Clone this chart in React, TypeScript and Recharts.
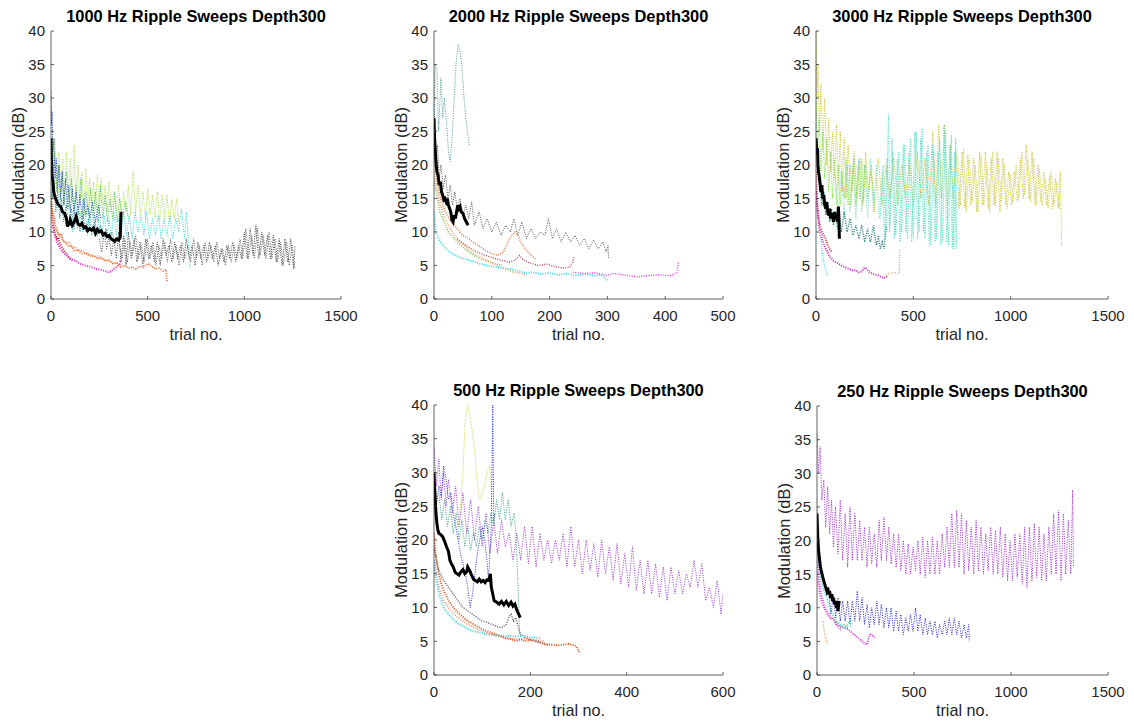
import React from "react";
import { LineChart, Line, XAxis, YAxis } from "recharts";

type Pt = [number, number];
type Series = { color: string; pts: Pt[]; solid?: boolean; w?: number };

// ---------- 1000 Hz ----------
const p1Gray: Pt[] = [[250,9],[262,7],[275,10],[288,7.5],[300,9.5],[312,6.5],[325,9],[338,6],[350,10],[362,5.5],[375,9.5],[388,5],[400,10],[415,6],[430,9],[445,5.5],[460,8.5],[475,5],[490,9],[505,6],[520,8],[535,5.5],[550,8.5],[565,5],[580,9],[595,6.5],[610,8],[625,5.5],[640,8.5],[655,6],[670,8],[685,5.5],[700,9],[715,6],[730,8],[745,5],[760,8.5],[775,6],[790,8],[805,5.5],[820,8.5],[835,6],[850,8],[865,5],[880,7.5],[895,5.5],[910,8],[925,6],[940,8.5],[955,5.5],[970,8],[985,6],[1000,10],[1015,6],[1030,10.5],[1045,6.5],[1060,11],[1075,6],[1090,10],[1105,6.5],[1120,9.5],[1135,6],[1150,9.5],[1165,5.5],[1180,9],[1195,5],[1210,9],[1225,5.5],[1240,9],[1255,4.5],[1262,8]];
const p1Gray2: Pt[] = [[355,8],[368,6],[382,9],[395,5.5],[408,8.5],[422,6.5],[438,9.5],[452,6],[468,8],[482,5.5],[498,9],[512,6],[528,8.5],[542,5],[558,8],[572,6],[588,8.5],[602,5.5],[618,9],[632,6],[648,8],[662,5],[678,8.5],[692,6],[708,8],[722,5.5],[738,9],[752,6],[768,8],[782,5],[798,8.5],[812,6],[828,8],[842,5.5],[858,8.5],[872,6],[888,7.5],[902,5],[918,8],[932,5.5],[948,8],[962,6],[978,9],[992,6],[1008,10.5],[1022,6],[1038,9.5],[1052,6],[1068,10.5],[1082,6.5],[1098,9.5],[1112,6],[1128,10],[1142,6],[1158,9],[1172,5.5],[1188,8.5],[1202,5],[1218,8.5],[1232,5],[1248,8],[1260,4.5]];
const p1Cyan: Pt[] = [[100,14],[112,10],[125,15],[138,10.5],[150,13],[162,10],[175,14],[188,9.5],[200,13],[212,10],[225,12.5],[238,9.5],[250,13],[262,9],[275,12.5],[288,9.5],[300,12],[312,9],[325,13],[338,9.5],[350,12],[362,9],[375,13],[390,9.5],[405,12.5],[420,9],[435,13],[450,10],[465,12.5],[480,9.5],[495,13],[510,9],[525,12],[540,9.5],[555,12.5],[570,9],[585,12],[600,9.5],[615,12.5],[630,9],[645,12],[660,10],[675,13.5],[690,9],[700,13],[712,8],[720,4.5]];
const p1Lime: Pt[] = [[5,26],[12,19],[20,24],[30,17],[40,22],[50,16],[60,21],[70,15.5],[80,22],[90,15],[100,21],[110,14.5],[120,23],[130,15],[140,20],[150,14],[160,19],[170,13.5],[180,19.5],[190,14],[200,18],[210,13],[220,17.5],[230,13.5],[240,18.5],[250,13],[260,18],[270,14],[280,17],[290,13],[300,17.5],[312,13.5],[325,16],[338,13],[350,17],[362,12.5],[375,16],[388,13],[400,17],[412,12.5],[425,19],[438,13],[450,17],[462,12.5],[475,16],[488,12],[500,16.5],[512,12.5],[525,15.5],[538,12],[550,16],[562,11.5],[575,15.5],[588,12],[600,15.5],[612,11.5],[625,15],[638,12],[650,15],[660,11.5]];
const p1Green: Pt[] = [[3,24],[10,18],[18,22],[28,16],[38,20],[48,14.5],[58,19],[68,14],[80,19],[92,13.5],[105,18],[118,13],[130,17],[142,12.5],[155,18],[168,12],[180,16],[192,12.5],[205,16.5],[218,12],[230,16],[242,11.5],[255,17],[268,12],[280,15.5],[292,11.5],[305,15],[318,12],[330,16],[342,11.5],[355,15],[370,12],[385,14.5],[400,12]];
const p1Blue: Pt[] = [[0,31],[3,26],[6,28],[10,22],[15,24],[20,18],[27,21],[34,16],[42,20],[50,15],[58,19],[66,14],[75,18],[84,13.5],[92,17],[100,13],[110,16.5],[120,12.5],[130,16],[140,13],[150,15.5],[160,12],[170,15],[180,12.5],[190,14],[200,12],[215,14.5],[230,11.5],[245,14],[258,12]];
const p1Teal: Pt[] = [[0,20],[8,15],[16,18],[25,13],[35,16],[45,12],[55,15],[65,11.5],[78,14],[90,11],[105,13.5],[120,10.5],[135,13],[150,10],[165,12.5],[180,10],[195,12],[210,9.5],[225,11.5],[240,9.5],[255,11],[270,9],[285,10.5],[300,9],[315,10],[330,8.5]];
const p1Orange: Pt[] = [[0,16],[5,14],[10,13],[15,12.5],[22,11],[30,10.5],[40,9.5],[50,9.8],[60,8.7],[75,8.5],[90,7.8],[105,8],[120,7.2],[140,7.3],[160,6.8],[180,6.9],[200,6.4],[220,6.5],[240,6],[260,6.2],[280,5.7],[300,5.8],[320,5.3],[340,5.4],[360,4.8],[380,5],[400,4.6],[420,4.8],[440,4.4],[460,4.9],[480,4.7],[500,5.3],[520,4.9],[540,4.5],[560,4.6],[580,4.2],[595,4.4],[600,2.5]];
const p1Salmon: Pt[] = [[0,14],[8,12],[16,11],[25,10.3],[35,9.8],[45,9.2],[55,9.5],[65,8.6],[80,8.3],[95,8.5],[110,7.6],[125,7.8],[140,7.2],[160,7.3],[180,6.7],[200,6.8],[220,6.3],[240,6.4],[260,6],[280,5.8],[300,5.7],[320,5.3],[340,5.4],[360,5]];
const p1Red: Pt[] = [[0,15],[3,13],[6,12.5],[10,11],[15,10.5],[20,9.8],[25,9.5],[30,9],[35,9.2],[40,8.6],[48,8.2],[55,7.8],[62,7.5],[70,7],[80,6.8],[90,6.3],[100,6],[110,5.8]];
const p1Magenta: Pt[] = [[10,11],[20,9.5],[30,8.5],[40,8],[50,7.5],[60,7],[70,6.8],[80,6.5],[90,6.2],[100,6],[115,5.8],[130,5.7],[145,5.3],[160,5.2],[175,5],[190,4.9],[205,4.8],[220,4.6],[235,4.5],[250,4.4],[265,4.3],[280,4.2],[295,4],[310,4.1],[325,4.5],[340,4.8],[355,5.2],[360,5.8]];
const p1Black: Pt[] = [[0,24],[2,21],[4,19],[7,18],[10,17.5],[14,16],[18,15.5],[24,15],[30,14.5],[40,14],[50,13.8],[60,13],[70,12.8],[80,12],[85,10.8],[90,11.5],[95,11],[100,11.8],[110,11],[120,11.5],[130,12.3],[140,11.2],[150,11],[160,11.3],[170,10.6],[180,10.8],[190,10.2],[200,10.5],[210,10.3],[220,10.6],[230,9.8],[240,10.4],[250,10],[260,10.2],[270,9.6],[280,9.8],[290,9.3],[300,9.5],[310,9],[320,8.8],[330,8.6],[340,9],[350,8.8],[358,9.2],[362,13]];

// ---------- 2000 Hz ----------
const p2Gray: Pt[] = [[0,25],[3,21],[6,23],[9,18],[12,20],[16,16.5],[20,18.5],[24,15],[28,17],[32,14],[36,16],[40,13.5],[45,15],[50,12.5],[55,14],[60,12],[65,14.5],[70,11],[78,13],[85,10.5],[92,12],[100,10],[108,11.5],[116,9.5],[124,11],[132,10],[138,12],[145,9.5],[152,11.5],[160,9],[168,10.5],[176,9],[184,10],[192,9.5],[198,12],[205,9],[212,10.5],[220,8.5],[228,10],[236,8.5],[244,9.5],[252,8],[260,9],[268,7.5],[276,8.8],[284,7.5],[292,8.5],[298,7],[301,8],[302,6]];
const p2Teal: Pt[] = [[0,20],[2,35],[5,34.5],[8,25],[12,33],[15,27],[18,30],[22,26],[25,22],[28,20.5],[32,25],[35,30],[38,35],[42,38],[45,37],[48,35],[52,30],[55,27],[58,25],[61,23]];
const p2Orange: Pt[] = [[0,22],[5,18],[10,15.5],[15,14],[20,13],[30,11.5],[40,10.5],[50,9.5],[60,9],[70,8.3],[80,7.8],[90,7.2],[100,6.8],[110,6.5],[120,7],[128,8.5],[135,9.5],[140,10],[145,9.5],[150,8.5],[158,7.5],[165,6.8],[175,6]];
const p2Brown: Pt[] = [[40,9],[55,8],[70,7.2],[85,6.6],[100,6.2],[115,5.8],[130,5.5],[140,5.8],[148,6.5],[155,5.8],[165,5.4],[180,5],[195,5.2],[210,4.8],[225,4.6],[235,4.8],[240,5.5],[242,6.3]];
const p2Salmon: Pt[] = [[0,19],[8,15],[16,12.5],[25,11],[35,9.5],[45,8.5],[55,7.8],[65,7],[75,6.5],[85,6],[95,5.6],[105,5.2],[115,4.8],[125,4.4],[135,4.1],[145,3.9],[155,3.7],[160,3.6]];
const p2Cyan: Pt[] = [[0,13],[3,10],[8,9],[15,8],[25,7.2],[35,6.6],[45,6.2],[60,5.8],[75,5.4],[90,5],[105,4.8],[120,4.6],[135,4.4],[150,4.1],[160,3.8],[170,4],[185,3.7],[200,3.9],[215,3.6],[230,3.8],[245,3.5],[260,3.7],[275,3.5],[290,3.6],[300,2.8]];
const p2Green: Pt[] = [[0,18],[10,13],[25,10],[40,8.5],[60,7],[80,6],[100,5.4],[120,5]];
const p2Magenta: Pt[] = [[240,4],[260,3.8],[280,3.9],[300,3.5],[310,3.8],[330,3.6],[350,3.3],[370,3.5],[390,3.6],[410,3.5],[420,3.9],[423,5.5]];
const p2Black: Pt[] = [[0,27],[1,24],[3,21],[5,19],[7,18.5],[9,17],[11,17.5],[13,16],[15,15.5],[17,14.8],[19,15],[21,14.5],[23,15],[25,14],[27,13.5],[29,13],[31,11.8],[33,11.5],[35,12.5],[37,12],[39,13],[41,14],[43,13.5],[45,13.8],[47,13],[50,12.8],[53,12],[56,11.5],[59,11]];

// ---------- 3000 Hz ----------
const p3Olive: Pt[] = [[0,40],[5,30],[10,35],[18,25],[25,32],[35,22],[45,30],[55,20],[65,27],[75,19],[85,25],[95,18],[105,26],[115,17],[125,25],[135,16],[145,24],[155,15],[165,23],[180,14],[195,22],[210,15],[225,21],[240,14],[255,22],[270,16],[285,20],[300,13],[320,21],[340,14],[360,20],[380,15],[400,21],[420,14],[440,20],[460,15],[480,21],[500,14],[520,22],[540,15],[560,21],[580,14],[600,25],[615,14],[630,26],[645,15],[660,26],[675,14],[690,23],[705,15],[720,22],[735,13.5],[750,22],[765,13.5],[780,21.5],[795,14],[810,21],[825,13],[840,22],[855,14],[870,22],[885,13.5],[900,21],[915,14],[930,22],[945,13],[960,21],[975,14],[990,19],[1005,14],[1020,19],[1035,14.5],[1050,21],[1065,15],[1080,23],[1095,15],[1110,22],[1125,14],[1140,20],[1155,14.5],[1170,19],[1185,14],[1200,18.5],[1215,13.5],[1230,18],[1245,13.5],[1255,19],[1262,8]];
const p3Olive2: Pt[] = [[728,21],[742,14],[758,22.5],[772,13],[788,21],[802,14.5],[818,20],[832,13],[848,21.5],[862,14],[878,20],[892,13],[908,22],[922,14],[938,21],[952,14.5],[968,20],[982,13.5],[998,18.5],[1012,14.5],[1028,20],[1042,15],[1058,22],[1072,15.5],[1088,21],[1102,14.5],[1118,21],[1132,14],[1148,19.5],[1162,14],[1178,18],[1192,13.5],[1208,19],[1222,14],[1238,17.5],[1252,13.5]];
const p3Aqua: Pt[] = [[330,12],[345,20],[360,10],[372,27.5],[380,11],[395,22],[410,9.5],[425,22],[440,10],[455,23],[470,9],[485,24],[500,9.5],[515,25],[530,10],[545,25.5],[560,9],[575,23],[590,8],[605,22],[620,9],[635,24],[650,8.5],[665,25],[680,8],[695,24.5],[708,7.5],[718,24],[722,7.5]];
const p3Aqua2: Pt[] = [[340,18],[352,9],[365,21],[378,10],[390,24],[402,9],[418,21],[432,8.5],[448,23],[462,10],[478,22],[492,8.5],[508,25],[522,9],[538,24],[552,10],[568,22],[582,8],[598,23],[612,8.5],[628,22],[642,8],[658,26],[672,8.5],[688,23],[700,7.5],[712,22],[720,8]];
const p3Mint: Pt[] = [[100,18],[115,13],[130,19],[145,12],[160,20],[175,13],[190,20],[205,12],[220,21],[235,13],[250,20],[265,12],[280,21],[295,13],[310,20],[325,12],[340,19]];
const p3Green: Pt[] = [[0,30],[8,22],[16,27],[25,19],[35,25],[45,18],[55,24],[65,16],[75,22],[85,15],[95,21],[105,14],[115,20],[125,14],[135,19],[145,15],[155,21],[165,14],[175,20],[185,16],[195,21],[205,14],[215,20],[225,15],[235,21],[245,14.5],[255,20],[265,15],[280,19],[295,16],[300,14]];
const p3Teal: Pt[] = [[20,17],[30,14],[40,16],[50,12.5],[60,14.5],[70,11.5],[80,13.5],[90,11],[100,13],[110,10.5],[120,12.5],[130,10],[145,13],[160,10],[175,12],[190,9.5],[205,11],[220,9],[235,11],[250,8.5],[265,10.5],[280,8.5],[295,11],[310,8],[320,9.5],[330,7.5],[340,8.5],[350,7.5],[355,9],[362,11]];
const p3Magenta: Pt[] = [[0,16],[5,14],[10,12.5],[15,11],[20,10],[30,9],[40,8.2],[50,7.5],[60,7],[70,6.3],[80,6],[90,5.7],[100,5.5],[115,5.3],[130,5],[145,4.8],[160,4.6],[175,4.4],[190,4.2],[205,4.3],[220,4],[235,4.1],[250,4.7],[260,4.5],[275,4],[290,3.8],[305,3.6],[320,3.5],[335,3.3],[350,3.1],[365,3.4]];
const p3Red: Pt[] = [[0,19],[4,16],[8,14],[12,12.5],[16,11.5],[20,11],[25,10.5],[30,10],[40,9.5],[50,9],[60,8],[70,7.5],[80,7]];
const p3Orange: Pt[] = [[360,3.5],[380,3.8],[400,4],[420,3.8],[428,4],[430,7.5]];
const p3Cyan: Pt[] = [[25,9],[35,6],[45,5],[55,4],[60,3.5]];
const p3Blue: Pt[] = [[10,20],[20,17],[30,15],[40,16],[50,14],[60,13.5]];
const p3Black: Pt[] = [[0,24],[2,23],[5,21.5],[8,22.5],[10,20],[13,19],[16,18.5],[20,17.5],[25,16],[30,17],[35,15],[40,15.5],[45,14],[50,13.5],[55,14.5],[60,13],[65,12.5],[70,13.5],[75,12],[80,12.8],[85,12.2],[90,11.5],[95,13],[100,12],[105,12.5],[110,11.5],[115,13.8],[118,12],[120,9]];

// ---------- 500 Hz ----------
const p4Purple: Pt[] = [[0,34],[5,28],[10,32],[15,26],[20,30],[25,25],[30,29],[38,24],[45,28],[52,22],[60,27],[68,21],[76,26],[84,20],[92,25],[100,19],[108,24],[116,18],[124,23],[132,18],[140,23],[148,19],[156,21],[164,17],[172,21],[180,17],[188,22],[196,16.5],[204,22],[212,16],[220,21],[228,17],[236,20],[244,16.5],[252,20],[260,17],[268,21],[276,16],[284,22],[292,16],[300,20],[308,15],[316,20],[324,15.5],[332,19.5],[340,14.5],[348,20],[356,15],[364,19],[372,14],[380,19.5],[388,13.5],[396,18],[404,13],[412,19],[420,12.5],[428,17],[436,12],[444,17],[452,12],[460,16.5],[468,11.5],[476,16],[484,11],[492,16],[500,12],[508,15.5],[516,12],[524,15],[532,13],[540,17],[548,13],[556,16.5],[564,11],[572,13],[580,10],[588,14],[596,9],[600,12]];
const p4Blue: Pt[] = [[0,26],[5,25],[10,28],[15,26.5],[20,31],[25,29],[30,26],[35,27],[40,24],[45,22],[50,20],[55,18],[60,16.5],[65,15],[70,13],[75,10],[80,12],[85,15],[90,18],[95,20],[100,22],[105,20],[110,17],[113,14],[116,18],[119,22],[122,40],[124,23],[126,24]];
const p4Yellow: Pt[] = [[50,22],[55,25],[60,30],[65,38],[70,40],[75,38],[80,36],[85,33],[88,30],[92,27],[96,26],[100,27],[105,28],[110,30],[115,31],[118,30],[120,25]];
const p4Teal: Pt[] = [[10,27],[16,23],[22,26],[28,22],[34,25],[40,21],[46,24],[52,20],[58,23],[64,19],[70,22],[76,18.5],[82,21],[88,19],[94,22],[100,20],[106,23],[112,21],[118,24],[124,22],[130,26],[136,23],[142,27],[148,23],[154,26],[160,22],[166,24],[170,21],[174,14],[178,6]];
const p4Orange: Pt[] = [[0,21],[3,18],[6,16.5],[10,15],[15,13.5],[20,12.5],[25,11.8],[30,11],[40,10],[50,9.2],[60,8.6],[70,8],[80,7.6],[90,7.2],[100,6.8],[110,6.5],[120,6.2],[130,6],[140,5.7],[150,5.4],[160,5.3],[170,5],[180,5.3],[190,5],[200,5.2],[210,5],[220,4.8],[240,4.5],[260,4.4],[280,4.6],[295,4.3],[303,3.2]];
const p4Salmon: Pt[] = [[0,17],[10,13],[20,11],[35,9.5],[50,8.5],[70,7.5],[90,6.8],[110,6.2],[130,5.8],[150,5.5],[170,5.3],[190,5.4],[210,5.2],[230,5]];
const p4Cyan: Pt[] = [[0,17],[5,14],[10,12],[15,11],[20,10],[30,9],[40,8.2],[50,7.6],[60,7.2],[70,6.8],[80,6.5],[95,6.3],[110,6],[125,5.9],[140,5.8],[155,5.8],[170,5.7],[185,5.8],[200,5.6],[220,5.5]];
const p4Gray: Pt[] = [[0,19],[5,17],[10,15.5],[20,14],[30,13],[40,12],[50,11],[60,10],[70,9.5],[80,9],[90,8.5],[100,8],[110,7.8],[120,7.5],[130,7.2],[140,7],[150,7.5],[155,8.5],[160,9],[165,8],[170,8.5],[175,7],[180,6],[190,5.5],[200,5.2],[215,5],[230,4.5],[240,4.4]];
const p4Black: Pt[] = [[0,30],[1,28],[2,27],[4,24],[6,22.5],[8,21.5],[10,21],[14,20.8],[18,20.5],[22,19.8],[26,19],[30,18.3],[33,17],[36,16.5],[40,16],[44,15.2],[48,15],[52,14.8],[56,15.3],[60,15.6],[64,15],[68,15.3],[70,16],[74,15.5],[78,14.8],[82,14.2],[86,14],[90,13.8],[94,14.2],[98,13.8],[102,14],[106,13.7],[110,14.1],[114,14],[117,15],[119,13],[122,12],[125,11],[130,10.8],[135,10.5],[140,10.9],[145,10.4],[150,10.9],[155,10.3],[160,10.8],[164,10.2],[168,10.5],[172,9.6],[176,9],[179,8.5]];

// ---------- 250 Hz ----------
const p5Purple: Pt[] = [[0,36],[8,30],[16,34],[25,26],[35,29],[45,22],[55,28],[65,21],[75,26],[85,19],[95,25],[108,18],[120,26],[132,17],[145,24],[158,16],[170,25],[182,17],[195,24],[208,17],[220,23],[232,17],[245,22],[258,16],[270,22],[282,16.5],[295,21],[308,16],[320,23],[332,17],[345,23.5],[358,17],[370,22],[382,16.5],[395,21],[408,16],[420,21],[432,15.5],[445,20],[458,15],[470,19.5],[482,15],[495,19],[508,15.5],[520,20],[532,15],[545,20.5],[558,14.5],[570,20],[582,15],[595,20.5],[608,15],[620,20],[632,15],[645,21],[658,16],[670,22],[682,16],[695,24],[708,16],[720,24.5],[732,16],[745,24],[758,15],[770,23],[782,15.5],[795,22],[808,15],[820,23],[832,15.5],[845,22],[858,15],[870,21],[882,15.5],[895,22],[908,15],[920,21.5],[932,15],[945,22],[958,14.5],[970,21],[982,14],[995,20],[1008,14],[1020,21],[1032,14.5],[1045,21],[1058,13.5],[1070,22],[1082,13],[1095,22],[1108,14],[1120,22.5],[1132,14.5],[1145,22],[1158,14],[1170,21],[1182,14],[1195,22],[1208,15],[1220,24],[1232,15],[1245,24.5],[1258,14],[1270,24],[1282,15],[1295,23],[1308,15],[1318,27.5],[1322,16]];
const p5Blue: Pt[] = [[60,12.5],[72,9],[84,12],[96,8.5],[108,11.5],[120,8],[132,11],[145,8],[158,11],[170,7.5],[182,11],[195,8],[208,12.5],[220,8],[232,11.5],[245,7.5],[258,10.5],[270,7],[282,10],[295,7.5],[308,11],[320,7.5],[332,10.5],[345,7],[358,10],[370,7],[382,10],[395,6.5],[408,9.5],[420,6.5],[432,9],[445,6],[458,8.5],[470,6.5],[482,9],[495,6.5],[508,10],[520,6.5],[532,9],[545,6],[558,8.5],[570,6],[582,8],[595,6],[608,8],[620,5.5],[632,7.5],[645,6],[658,8],[670,6],[682,8.5],[695,6],[708,8.5],[720,6],[732,8],[745,5.5],[758,7.5],[770,5.5],[782,7.5],[785,5]];
const p5Magenta: Pt[] = [[0,20],[5,16],[10,14],[15,13],[20,12],[30,11],[40,10],[50,9.5],[60,9],[70,8.5],[80,8.5],[90,8],[100,7.5],[120,7.2],[140,7],[160,6.8],[180,6.3],[200,5.8],[220,5.3],[240,4.8],[258,4.5],[265,5.5],[275,6],[290,5.8],[300,5.5]];
const p5Pink: Pt[] = [[0,15],[10,12.5],[20,11],[35,10],[50,9],[70,8.5],[90,8],[110,7],[130,6.5]];
const p5Cyan: Pt[] = [[0,25],[5,20],[10,17],[15,15],[20,14],[30,13],[40,12],[50,11.5],[60,10.5],[70,9.5],[80,9],[90,8.5],[100,8],[120,7.5],[140,7],[160,7.5],[170,8],[178,7]];
const p5Orange: Pt[] = [[30,8],[40,6],[50,5],[55,4.5]];
const p5Green: Pt[] = [[100,8],[120,7],[140,7.5],[160,7]];
const p5Black: Pt[] = [[0,24],[2,22],[4,20.5],[6,19.5],[8,18.5],[10,18],[14,17],[18,16],[22,15.5],[26,15],[30,14.5],[35,14],[40,13.5],[45,13],[50,12.5],[55,13],[60,12],[65,12.5],[70,11.5],[75,12],[80,11],[85,11.5],[90,10.5],[95,11],[100,10],[104,11],[108,9.5],[112,10.5],[115,11]];

const yTicks = [0, 5, 10, 15, 20, 25, 30, 35, 40];
const ticks1500 = [0, 500, 1000, 1500];
const ticks500 = [0, 100, 200, 300, 400, 500];
const ticks600 = [0, 200, 400, 600];

const FONT = '"Liberation Sans", Arial, Helvetica, sans-serif';
const AX = "#3a3a3a";
const TXT = "#262626";
const TL = 3;
const AXIS_L = 60;
const AXIS_B = 50;
const PAD_T = 12;
const PAD_R = 30;

const toData = (pts: Pt[]) => pts.map(([x, y]) => ({ x, y }));

const BottomTick = (p: any) => (
  <g>
    <line x1={p.x} y1={p.y} x2={p.x} y2={p.y - TL} stroke={AX} strokeWidth={0.8} />
    <text x={p.x} y={p.y + 21.5} textAnchor="middle" fontSize={15} fill={TXT} fontFamily={FONT}>
      {p.payload.value}
    </text>
  </g>
);
const TopTick = (p: any) => (
  <line x1={p.x} y1={p.y} x2={p.x} y2={p.y + TL} stroke={AX} strokeWidth={0.8} />
);
const LeftTick = (p: any) => (
  <g>
    <line x1={p.x} y1={p.y} x2={p.x + TL} y2={p.y} stroke={AX} strokeWidth={0.8} />
    <text x={p.x - 6} y={p.y + 5.4} textAnchor="end" fontSize={15} fill={TXT} fontFamily={FONT}>
      {p.payload.value}
    </text>
  </g>
);
const RightTick = (p: any) => (
  <line x1={p.x} y1={p.y} x2={p.x - TL} y2={p.y} stroke={AX} strokeWidth={0.8} />
);

function Panel({ title, left, top, w, h, xMax, xTicks, series }: {
  title: string; left: number; top: number; w: number; h: number;
  xMax: number; xTicks: number[]; series: Series[];
}) {
  return (
    <>
      <div style={{ position: "absolute", left: left - 30, top: top - 26, width: w + 60, textAlign: "center",
        fontFamily: FONT, fontWeight: "bold", fontSize: 16.4, lineHeight: "22px", color: "#000" }}>
        {title}
      </div>
      <div style={{ position: "absolute", left, top: top + h + 24, width: w, textAlign: "center",
        fontFamily: FONT, fontSize: 16.2, lineHeight: "22px", color: TXT }}>
        trial no.
      </div>
      <div style={{ position: "absolute", left: left - 33 - 100, top: top + h / 2 - 11, width: 200,
        textAlign: "center", fontFamily: FONT, fontSize: 16.4, lineHeight: "22px", color: TXT,
        transform: "rotate(-90deg)" }}>
        Modulation (dB)
      </div>
      <div style={{ position: "absolute", left: left - AXIS_L, top: top - PAD_T }}>
        <LineChart width={AXIS_L + w + PAD_R} height={PAD_T + h + AXIS_B}
          margin={{ top: PAD_T, right: PAD_R, bottom: 0, left: 0 }}>
          <XAxis xAxisId="b" type="number" dataKey="x" domain={[0, xMax]} ticks={xTicks}
            allowDataOverflow interval={0} height={AXIS_B} tickSize={0} tickMargin={0}
            tickLine={false} axisLine={{ stroke: AX, strokeWidth: 0.8 }} tick={BottomTick} />
          <XAxis xAxisId="t" orientation="top" type="number" dataKey="x" domain={[0, xMax]}
            ticks={xTicks} allowDataOverflow interval={0} height={0} tickSize={0} tickMargin={0}
            tickLine={false} axisLine={{ stroke: AX, strokeWidth: 0.8 }} tick={TopTick} />
          <YAxis yAxisId="l" type="number" domain={[0, 40]} ticks={yTicks} allowDataOverflow
            interval={0} width={AXIS_L} tickSize={0} tickMargin={0} tickLine={false}
            axisLine={{ stroke: AX, strokeWidth: 0.8 }} tick={LeftTick} />
          <YAxis yAxisId="r" orientation="right" type="number" domain={[0, 40]} ticks={yTicks}
            allowDataOverflow interval={0} width={0} tickSize={0} tickMargin={0} tickLine={false}
            axisLine={{ stroke: AX, strokeWidth: 0.8 }} tick={RightTick} />
          {series.map((s, i) => (
            <Line key={i} xAxisId="b" yAxisId="l" data={toData(s.pts)} dataKey="y"
              type="linear" stroke={s.color} strokeWidth={s.solid ? 3 : s.w ?? 1}
              strokeDasharray={s.solid ? undefined : "1 1.4"} dot={false} activeDot={false}
              isAnimationActive={false} />
          ))}
        </LineChart>
      </div>
    </>
  );
}

const panel1: Series[] = [
  { color: "#404040", pts: p1Gray },
  { color: "#606060", pts: p1Gray2 },
  { color: "#30d0e0", pts: p1Cyan },
  { color: "#a8e040", pts: p1Lime },
  { color: "#40b848", pts: p1Green },
  { color: "#2040d0", pts: p1Blue },
  { color: "#1e8080", pts: p1Teal },
  { color: "#f0a070", pts: p1Salmon, w: 1.8 },
  { color: "#e86a30", pts: p1Orange, w: 1.8 },
  { color: "#d02020", pts: p1Red, w: 2 },
  { color: "#e020d0", pts: p1Magenta, w: 2 },
  { color: "#000000", pts: p1Black, solid: true },
];
const panel2: Series[] = [
  { color: "#505050", pts: p2Gray },
  { color: "#4a9a9a", pts: p2Teal },
  { color: "#88c060", pts: p2Green, w: 1.6 },
  { color: "#f0a878", pts: p2Salmon, w: 1.8 },
  { color: "#e87a4a", pts: p2Orange, w: 1.6 },
  { color: "#b04858", pts: p2Brown, w: 1.4 },
  { color: "#40d8e8", pts: p2Cyan, w: 2 },
  { color: "#e040e0", pts: p2Magenta, w: 1.4 },
  { color: "#000000", pts: p2Black, solid: true },
];
const panel3: Series[] = [
  { color: "#c8c020", pts: p3Olive },
  { color: "#d0c838", pts: p3Olive2 },
  { color: "#40e0b8", pts: p3Aqua },
  { color: "#50d8c8", pts: p3Aqua2 },
  { color: "#70d8c0", pts: p3Mint },
  { color: "#70e030", pts: p3Green },
  { color: "#1e7a7a", pts: p3Teal, w: 1.4 },
  { color: "#3050a0", pts: p3Blue },
  { color: "#40d8e8", pts: p3Cyan, w: 1.4 },
  { color: "#c02040", pts: p3Red, w: 1.8 },
  { color: "#d020c0", pts: p3Magenta, w: 2 },
  { color: "#e0a070", pts: p3Orange, w: 1.4 },
  { color: "#000000", pts: p3Black, solid: true },
];
const panel4: Series[] = [
  { color: "#9a35d0", pts: p4Purple },
  { color: "#3a9a8a", pts: p4Teal },
  { color: "#d0d040", pts: p4Yellow },
  { color: "#2030d0", pts: p4Blue },
  { color: "#555555", pts: p4Gray, w: 1.4 },
  { color: "#f09070", pts: p4Salmon, w: 1.8 },
  { color: "#40d0e0", pts: p4Cyan, w: 2 },
  { color: "#e05020", pts: p4Orange, w: 2 },
  { color: "#000000", pts: p4Black, solid: true },
];
const panel5: Series[] = [
  { color: "#a028d0", pts: p5Purple },
  { color: "#2222c0", pts: p5Blue },
  { color: "#f080e8", pts: p5Pink, w: 1.8 },
  { color: "#e030d0", pts: p5Magenta, w: 2 },
  { color: "#30d8d8", pts: p5Cyan, w: 1.8 },
  { color: "#6cb040", pts: p5Green, w: 1.4 },
  { color: "#e0a060", pts: p5Orange, w: 1.4 },
  { color: "#000000", pts: p5Black, solid: true },
];

export default function App() {
  return (
    <div style={{ position: "absolute", left: 0, top: 0, width: 1134, height: 722, background: "#fff", overflow: "hidden" }}>
      <Panel title="1000 Hz Ripple Sweeps Depth300" left={51} top={31} w={290} h={268}
        xMax={1500} xTicks={ticks1500} series={panel1} />
      <Panel title="2000 Hz Ripple Sweeps Depth300" left={434} top={31} w={289} h={268}
        xMax={500} xTicks={ticks500} series={panel2} />
      <Panel title="3000 Hz Ripple Sweeps Depth300" left={816} top={31} w={292} h={268}
        xMax={1500} xTicks={ticks1500} series={panel3} />
      <Panel title="500 Hz Ripple Sweeps Depth300" left={434} top={405} w={289} h={270}
        xMax={600} xTicks={ticks600} series={panel4} />
      <Panel title="250 Hz Ripple Sweeps Depth300" left={817} top={406} w={291} h={269}
        xMax={1500} xTicks={ticks1500} series={panel5} />
    </div>
  );
}
